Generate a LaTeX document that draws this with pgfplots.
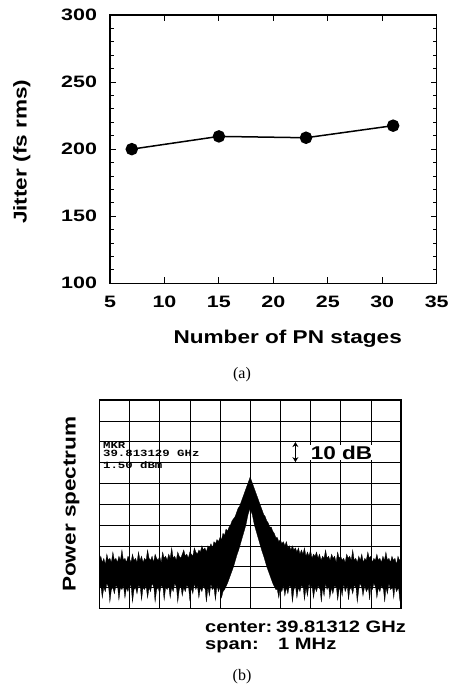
\documentclass[border=0pt]{standalone}
\usepackage{fontspec}
\setmainfont{Liberation Sans}[FakeStretch=1.22]
\newfontfamily\tickfont{Liberation Sans}[FakeStretch=1.3]
\newfontfamily\capfont{Liberation Serif}
\newfontfamily\mkrfont{Liberation Mono}[FakeStretch=1.3]
\usepackage{pgfplots}
\pgfplotsset{compat=1.18}
\usetikzlibrary{arrows.meta}
\begin{document}
\begin{tikzpicture}
\useasboundingbox (0pt,0pt) rectangle (455pt,688pt);
% ---------------- panel (a) ----------------
\begin{axis}[
  at={(110pt,404.7pt)}, anchor=south west,
  scale only axis, width=326.7pt, height=268.3pt,
  xmin=5, xmax=35, ymin=100, ymax=300,
  xtick={5,10,...,35}, ytick={100,150,...,300},
  minor y tick num=4,
  tick align=inside,
  major tick length=6pt, minor tick length=3.5pt,
  axis line style={line width=1.2pt},
  every tick/.style={black, line width=0.9pt},
  /pgf/number format/assume math mode=true,
  tick label style={font=\tickfont\bfseries\fontsize{16.5}{16.5}\selectfont},
  xticklabel style={yshift=-9pt},
  yticklabel style={xshift=-9.5pt},
  xlabel={Number of PN stages},
  ylabel={Jitter (fs rms)},
  label style={font=\bfseries\fontsize{18.5}{18.5}\selectfont},
  xlabel style={at={(axis description cs:0.544,-0.205)}, anchor=center},
  ylabel style={at={(axis description cs:-0.27,0.49)}, anchor=center},
]
\addplot[black, line width=1.5pt, mark=*, mark size=5.5pt, mark options={solid, fill=black}]
  coordinates {(7,200) (15,209.5) (23,208.5) (31,217.5)};
\end{axis}
\node[font=\capfont\fontsize{16}{16}\selectfont] at (242pt,313pt) {(a)};
% ---------------- panel (b) ----------------
\begin{axis}[
  at={(99.3pt,79.7pt)}, anchor=south west,
  scale only axis, width=301.7pt, height=208.3pt,
  xmin=0, xmax=10, ymin=0, ymax=10,
  xtick={0,...,10}, ytick={0,...,10},
  xticklabels={}, yticklabels={},
  major tick length=0pt,
  grid=major, grid style={black, line width=0.6pt},
  axis line style={line width=1.2pt},
  ylabel={Power spectrum},
  ylabel style={at={(axis description cs:-0.093,0.5)}, anchor=center, font=\bfseries\fontsize{18.5}{18.5}\selectfont},
  clip=true,
]
% spectrum trace: upper envelope (left to right), then lower envelope (right to left)
\addplot[fill=black, draw=black, line width=0.3pt] coordinates {
(0.0,2.3) (0.05,2.5) (0.1,2.2) (0.15,2.4) (0.2,2.1) (0.25,2.6) (0.3,2.3) (0.35,2.4) (0.4,2.2) (0.45,2.7)
(0.5,2.3) (0.55,2.4) (0.6,2.2) (0.65,2.5) (0.7,2.3) (0.75,2.8) (0.8,2.3) (0.85,2.4) (0.9,2.2) (0.95,2.5)
(1.0,2.4) (1.05,2.2) (1.1,2.6) (1.15,2.3) (1.2,2.4) (1.25,2.2) (1.3,2.7) (1.35,2.3) (1.4,2.5) (1.45,2.2)
(1.5,2.4) (1.55,2.3) (1.6,2.8) (1.65,2.4) (1.7,2.3) (1.75,2.5) (1.8,2.2) (1.85,2.6) (1.9,2.4) (1.95,2.3)
(2.0,2.5) (2.05,2.2) (2.1,2.7) (2.15,2.4) (2.2,2.5) (2.25,2.3) (2.3,2.6) (2.35,2.4) (2.4,2.9) (2.45,2.4)
(2.5,2.5) (2.55,2.3) (2.6,2.7) (2.65,2.5) (2.7,2.4) (2.75,2.6) (2.8,2.8) (2.85,2.5) (2.9,2.6) (2.95,2.4)
(3.0,2.7) (3.05,2.6) (3.1,2.5) (3.15,2.9) (3.2,2.7) (3.25,2.6) (3.3,2.8) (3.35,2.7) (3.4,3.0) (3.45,2.8)
(3.5,2.9) (3.55,2.7) (3.6,3.0) (3.65,2.9) (3.7,3.1) (3.75,2.9) (3.8,3.2) (3.85,3.1) (3.9,3.3) (3.95,3.2)
(4.0,3.4) (4.05,3.3) (4.1,3.6) (4.15,3.5) (4.2,3.8) (4.25,3.7) (4.3,3.9) (4.35,4.0) (4.4,4.2) (4.45,4.3)
(4.5,4.4) (4.55,4.6) (4.6,4.8) (4.65,4.9) (4.7,5.1) (4.75,5.3) (4.8,5.5) (4.85,5.7) (4.9,5.9) (4.95,6.1)
(5.0,6.3) (5.05,6.1) (5.1,5.9) (5.15,5.7) (5.2,5.5) (5.25,5.3) (5.3,5.1) (5.35,4.9) (5.4,4.7) (5.45,4.5)
(5.5,4.4) (5.55,4.2) (5.6,4.1) (5.65,3.9) (5.7,3.9) (5.75,3.7) (5.8,3.6) (5.85,3.4) (5.9,3.4) (5.95,3.2)
(6.0,3.3) (6.05,3.1) (6.1,3.2) (6.15,3.0) (6.2,3.2) (6.25,2.9) (6.3,3.0) (6.35,2.8) (6.4,3.0) (6.45,2.8)
(6.5,2.9) (6.55,2.7) (6.6,2.9) (6.65,2.6) (6.7,2.8) (6.75,2.6) (6.8,2.9) (6.85,2.5) (6.9,2.7) (6.95,2.5)
(7.0,2.8) (7.05,2.4) (7.1,2.6) (7.15,2.5) (7.2,2.7) (7.25,2.4) (7.3,2.6) (7.35,2.3) (7.4,2.5) (7.45,2.4)
(7.5,2.8) (7.55,2.4) (7.6,2.5) (7.65,2.3) (7.7,2.6) (7.75,2.4) (7.8,2.5) (7.85,2.2) (7.9,2.7) (7.95,2.4)
(8.0,2.5) (8.05,2.3) (8.1,2.4) (8.15,2.2) (8.2,2.6) (8.25,2.4) (8.3,2.5) (8.35,2.3) (8.4,2.8) (8.45,2.3)
(8.5,2.4) (8.55,2.2) (8.6,2.5) (8.65,2.3) (8.7,2.6) (8.75,2.2) (8.8,2.4) (8.85,2.3) (8.9,2.7) (8.95,2.4)
(9.0,2.5) (9.05,2.2) (9.1,2.4) (9.15,2.3) (9.2,2.6) (9.25,2.3) (9.3,2.4) (9.35,2.2) (9.4,2.5) (9.45,2.3)
(9.5,2.7) (9.55,2.3) (9.6,2.4) (9.65,2.2) (9.7,2.5) (9.75,2.3) (9.8,2.4) (9.85,2.1) (9.9,2.5) (9.95,2.3)
(10.0,2.4)
(10.0,0.9) (9.96,0.4) (9.92,1.0) (9.85,0.8) (9.8,1.1) (9.76,0.5) (9.72,1.0) (9.65,0.9) (9.6,1.2) (9.55,0.7)
(9.5,1.0) (9.46,0.3) (9.42,0.9) (9.35,1.1) (9.3,0.8) (9.25,1.0) (9.2,0.5) (9.16,1.0) (9.1,1.2) (9.05,0.9)
(9.0,1.1) (8.96,0.4) (8.92,1.0) (8.85,0.8) (8.8,1.1) (8.74,0.6) (8.7,1.0) (8.64,1.2) (8.6,0.9) (8.55,0.3)
(8.51,1.0) (8.45,1.1) (8.4,0.7) (8.35,1.0) (8.3,0.9) (8.26,0.4) (8.22,1.1) (8.15,0.8) (8.1,1.2) (8.05,0.6)
(8.0,1.0) (7.95,0.9) (7.9,0.4) (7.86,1.0) (7.8,1.1) (7.74,0.7) (7.7,1.0) (7.64,0.5) (7.6,1.1) (7.55,0.9)
(7.5,1.2) (7.45,0.6) (7.4,1.0) (7.36,0.3) (7.32,0.9) (7.25,1.1) (7.2,0.8) (7.15,1.0) (7.1,0.5) (7.05,1.1)
(7.0,0.9) (6.95,1.2) (6.9,0.6) (6.85,1.0) (6.8,0.4) (6.76,1.0) (6.7,1.1) (6.65,0.8) (6.6,1.0) (6.55,0.5)
(6.5,1.1) (6.45,0.9) (6.4,0.3) (6.36,1.0) (6.3,1.1) (6.25,0.7) (6.2,1.0) (6.15,0.6) (6.1,1.1) (6.05,0.8)
(6.0,1.0) (5.95,0.5) (5.9,0.9)
(5.85,0.9) (5.75,1.2) (5.65,1.6) (5.55,2.0) (5.45,2.5) (5.38,2.8) (5.3,3.2) (5.22,3.6) (5.14,4.0) (5.07,4.5)
(5.0,4.8) (4.93,4.5) (4.86,4.0) (4.78,3.6) (4.7,3.2) (4.62,2.8) (4.55,2.5) (4.45,2.0) (4.35,1.6) (4.25,1.2)
(4.15,0.9)
(4.1,0.8) (4.05,0.5) (4.0,1.0) (3.95,0.8) (3.9,1.1) (3.85,0.4) (3.8,1.0) (3.74,0.9) (3.7,1.2) (3.65,0.6)
(3.6,1.0) (3.55,0.3) (3.51,0.9) (3.45,1.1) (3.4,0.8) (3.35,1.0) (3.3,0.5) (3.25,1.1) (3.2,0.9) (3.15,1.2)
(3.1,0.7) (3.05,1.0) (3.0,0.4) (2.96,1.0) (2.9,1.1) (2.85,0.8) (2.8,1.0) (2.75,0.6) (2.7,1.1) (2.65,0.9)
(2.6,0.3) (2.56,1.0) (2.5,1.2) (2.45,0.8) (2.4,1.0) (2.35,0.5) (2.3,1.1) (2.25,0.9) (2.2,1.0) (2.15,0.4)
(2.11,1.0) (2.05,1.1) (2.0,0.7) (1.95,1.0) (1.9,0.9) (1.85,0.3) (1.81,1.0) (1.75,1.2) (1.7,0.8) (1.65,1.0)
(1.6,0.5) (1.55,1.1) (1.5,0.9) (1.45,1.0) (1.4,0.4) (1.36,1.0) (1.3,1.1) (1.25,0.7) (1.2,1.0) (1.15,0.9)
(1.1,0.3) (1.06,1.0) (1.0,1.2) (0.95,0.8) (0.9,1.0) (0.85,0.5) (0.8,1.1) (0.75,0.9) (0.7,1.0) (0.65,0.4)
(0.61,1.0) (0.55,1.1) (0.5,0.7) (0.45,1.0) (0.4,0.9) (0.35,0.3) (0.31,1.0) (0.25,1.2) (0.2,0.8) (0.15,1.0)
(0.1,0.5) (0.05,1.1) (0.0,0.9)
};
% carrier spike
\addplot[black, line width=1.3pt] coordinates {(5,0.7) (5,9.85)};
\node[anchor=west, inner sep=0pt, font=\mkrfont\bfseries\fontsize{9.5}{9.5}\selectfont] at (axis cs:0.12,7.81) {MKR};
\node[anchor=west, inner sep=0pt, font=\mkrfont\bfseries\fontsize{9.5}{9.5}\selectfont] at (axis cs:0.12,7.42) {39.813129 GHz};
\node[anchor=west, inner sep=0pt, font=\mkrfont\bfseries\fontsize{9.5}{9.5}\selectfont] at (axis cs:0.12,6.86) {1.50 dBm};
\draw[{Stealth[length=5pt,width=6pt]}-{Stealth[length=5pt,width=6pt]}, line width=1pt] (axis cs:6.5,7.02) -- (axis cs:6.5,7.98);
\node[fill=white, inner sep=1pt, font=\bfseries\fontsize{18.5}{18.5}\selectfont] at (axis cs:8.03,7.47) {10 dB};
\end{axis}
\node[anchor=base west, inner sep=0pt, font=\bfseries\fontsize{16.5}{16.5}\selectfont] at (205pt,55.3pt) {center:};
\node[anchor=base west, inner sep=0pt, font=\bfseries\fontsize{16.5}{16.5}\selectfont] at (276pt,55.3pt) {39.81312 GHz};
\node[anchor=base west, inner sep=0pt, font=\bfseries\fontsize{16.5}{16.5}\selectfont] at (205pt,38.7pt) {span:};
\node[anchor=base west, inner sep=0pt, font=\bfseries\fontsize{16.5}{16.5}\selectfont] at (278pt,38.7pt) {1 MHz};
\node[font=\capfont\fontsize{16}{16}\selectfont] at (242pt,11pt) {(b)};
\end{tikzpicture}
\end{document}
